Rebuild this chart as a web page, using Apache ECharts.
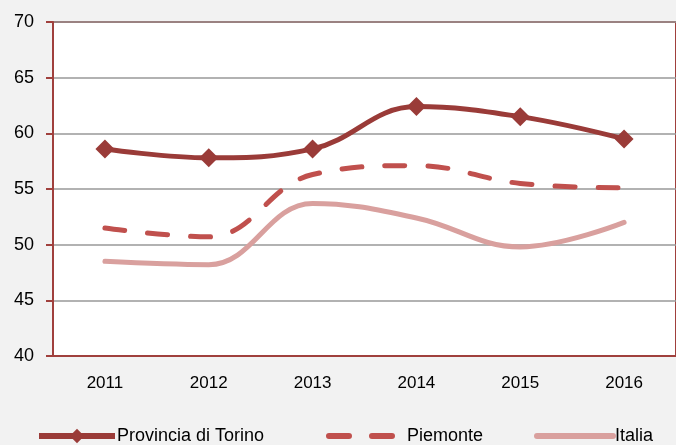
<!DOCTYPE html>
<html lang="it">
<head>
    <meta charset="UTF-8">
    <title>Grafico</title>
    <script src="https://cdn.jsdelivr.net/npm/echarts@6/dist/echarts.min.js"></script>
    <style>
        html, body { margin: 0; padding: 0; background: #f2f2f2; }
    </style>
</head>
<body>
<div id="chart" style="width: 676px;height:445px;"></div>
<script>
    var years = ['2011', '2012', '2013', '2014', '2015', '2016'];
    var torino = [58.6, 57.8, 58.6, 62.4, 61.5, 59.5];
    var piemonte = [51.5, 50.7, 56.3, 57.1, 55.5, 55.1];
    var italia = [48.5, 48.2, 53.7, 52.4, 49.8, 52.0];

    var axisRed = '#a0403d';
    var font = 'Liberation Sans';

    // one legend per entry so each sits where the original places it
    function legendFor(name, left, marker) {
        return {
            data: [name],
            left: left,
            top: 422,
            itemWidth: 76,
            itemHeight: 18,
            itemGap: 0,
            lineStyle: { width: 6 },
            itemStyle: marker ? {} : { color: 'transparent', borderWidth: 0 },
            textStyle: { fontFamily: font, fontSize: 18, color: '#000', padding: [0, 0, 0, -3] }
        };
    }

    echarts.init(document.getElementById('chart')).setOption({
        backgroundColor: '#f2f2f2',
        animation: false,
        grid: {
            left: 53,
            top: 22,
            right: -8,
            height: 334,
            show: true,
            backgroundColor: '#ffffff',
            borderColor: axisRed,
            borderWidth: 2
        },
        legend: [
            legendFor('Provincia di Torino', 31, true),
            legendFor('Piemonte', 321, false),
            legendFor('Italia', 529, false)
        ],
        xAxis: {
            type: 'category',
            data: years,
            axisLine: { lineStyle: { color: axisRed, width: 2 } },
            axisTick: { length: 7, lineStyle: { color: axisRed, width: 2 } },
            axisLabel: { fontFamily: font, fontSize: 17, color: '#000', margin: 19 }
        },
        yAxis: {
            type: 'value',
            min: 40,
            max: 70,
            interval: 5,
            axisLine: { show: true, lineStyle: { color: axisRed, width: 2 } },
            axisTick: { show: true, length: 7, lineStyle: { color: axisRed, width: 2 } },
            axisLabel: { fontFamily: font, fontSize: 18, color: '#000', margin: 19 },
            splitLine: { lineStyle: { color: '#999999', width: 1.5 } }
        },
        series: [
            {
                name: 'Italia',
                type: 'line',
                smooth: 0.4,
                symbol: 'none',
                color: '#d9a09e',
                lineStyle: { width: 5, color: '#d9a09e', cap: 'round' },
                data: italia
            },
            {
                name: 'Piemonte',
                type: 'line',
                smooth: 0.4,
                symbol: 'none',
                color: '#c0504d',
                lineStyle: { width: 5, color: '#c0504d', type: [20, 23], cap: 'round' },
                data: piemonte
            },
            {
                name: 'Provincia di Torino',
                type: 'line',
                smooth: 0.4,
                symbol: 'diamond',
                symbolSize: 19,
                color: '#9a3b38',
                itemStyle: { color: '#9a3b38' },
                lineStyle: { width: 5, color: '#9a3b38' },
                data: torino
            }
        ]
    });
</script>
</body>
</html>
